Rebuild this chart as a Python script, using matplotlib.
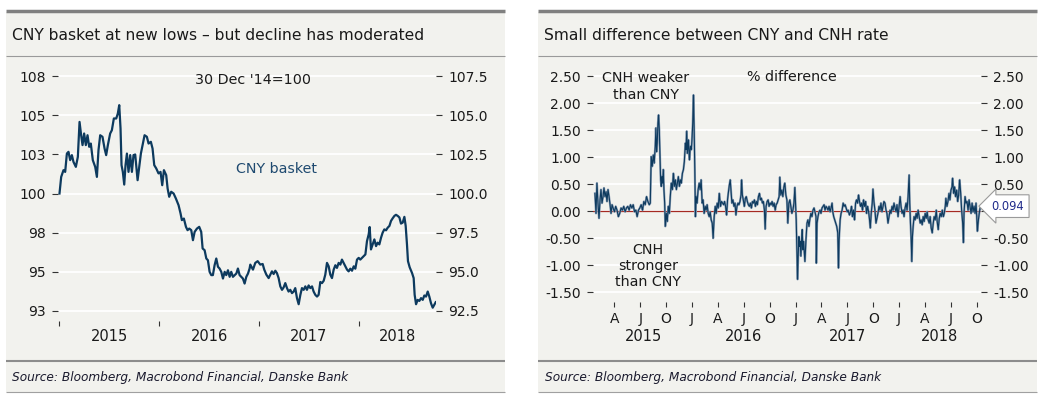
import matplotlib
matplotlib.use("Agg")
import matplotlib.pyplot as plt
from matplotlib.patches import Rectangle
from matplotlib.lines import Line2D

# CNY basket index (30 Dec 2014 = 100), decimal year vs index
basket = [
    (2015.000, 100.00), (2015.017, 101.06), (2015.040, 101.49), (2015.057, 101.38), (2015.074, 102.55),
    (2015.090, 102.66), (2015.107, 102.13), (2015.124, 102.45), (2015.140, 102.02), (2015.164, 101.70),
    (2015.184, 102.34), (2015.201, 104.57), (2015.217, 103.72), (2015.231, 103.09), (2015.247, 103.83),
    (2015.264, 103.09), (2015.281, 103.72), (2015.298, 102.98), (2015.314, 103.19), (2015.334, 102.13),
    (2015.358, 101.70), (2015.375, 101.06), (2015.391, 102.77), (2015.408, 103.72), (2015.431, 103.62),
    (2015.452, 102.87), (2015.468, 102.45), (2015.485, 103.09), (2015.508, 103.83), (2015.525, 104.04),
    (2015.545, 104.79), (2015.569, 104.79), (2015.585, 105.11), (2015.599, 105.64), (2015.612, 104.15),
    (2015.622, 101.81), (2015.635, 101.38), (2015.649, 100.57), (2015.662, 101.81), (2015.676, 102.55),
    (2015.692, 101.38), (2015.709, 102.45), (2015.726, 101.38), (2015.742, 102.45), (2015.759, 102.49),
    (2015.783, 100.85), (2015.799, 101.70), (2015.816, 102.55), (2015.833, 103.09), (2015.853, 103.72),
    (2015.876, 103.62), (2015.893, 103.19), (2015.916, 103.30), (2015.933, 102.87), (2015.950, 101.81),
    (2015.970, 101.60), (2015.993, 101.28), (2016.013, 101.38), (2016.030, 100.53), (2016.047, 101.49),
    (2016.070, 101.17), (2016.084, 100.32), (2016.100, 99.79), (2016.120, 100.11), (2016.144, 100.00),
    (2016.167, 99.68), (2016.194, 99.25), (2016.214, 98.72), (2016.227, 98.30), (2016.247, 98.40),
    (2016.268, 97.87), (2016.284, 97.66), (2016.301, 97.76), (2016.321, 97.66), (2016.338, 97.02),
    (2016.355, 97.55), (2016.378, 97.76), (2016.401, 97.87), (2016.421, 97.55), (2016.435, 96.49),
    (2016.455, 96.38), (2016.472, 95.85), (2016.488, 95.74), (2016.505, 95.00), (2016.522, 94.79),
    (2016.538, 94.79), (2016.555, 95.42), (2016.572, 95.85), (2016.589, 95.32), (2016.605, 95.21),
    (2016.622, 95.00), (2016.639, 94.57), (2016.656, 95.00), (2016.672, 94.79), (2016.689, 95.10),
    (2016.706, 94.68), (2016.722, 95.00), (2016.739, 94.68), (2016.756, 94.79), (2016.773, 94.89),
    (2016.789, 95.21), (2016.806, 94.79), (2016.823, 94.68), (2016.839, 94.57), (2016.856, 94.25),
    (2016.873, 94.68), (2016.890, 94.89), (2016.906, 95.21), (2016.913, 95.46), (2016.940, 95.14),
    (2016.963, 95.57), (2016.987, 95.68), (2017.013, 95.46), (2017.037, 95.50), (2017.053, 95.14),
    (2017.074, 94.82), (2017.097, 94.60), (2017.114, 94.82), (2017.130, 95.03), (2017.147, 94.86),
    (2017.164, 95.07), (2017.180, 94.92), (2017.197, 94.60), (2017.214, 94.07), (2017.231, 93.85),
    (2017.247, 94.00), (2017.264, 94.28), (2017.281, 93.96), (2017.297, 93.74), (2017.314, 93.85),
    (2017.331, 93.64), (2017.348, 93.74), (2017.364, 93.96), (2017.381, 93.32), (2017.398, 92.93),
    (2017.415, 93.53), (2017.431, 93.96), (2017.448, 93.85), (2017.465, 94.07), (2017.481, 93.85),
    (2017.498, 94.13), (2017.515, 93.96), (2017.532, 94.07), (2017.548, 93.74), (2017.565, 93.53),
    (2017.582, 93.42), (2017.598, 93.53), (2017.615, 94.35), (2017.632, 94.28), (2017.649, 94.43),
    (2017.665, 94.82), (2017.682, 95.57), (2017.699, 95.35), (2017.715, 94.82), (2017.732, 94.60),
    (2017.749, 95.14), (2017.766, 95.42), (2017.782, 95.25), (2017.799, 95.57), (2017.816, 95.46),
    (2017.832, 95.78), (2017.849, 95.57), (2017.866, 95.35), (2017.883, 95.14), (2017.899, 95.03),
    (2017.916, 95.20), (2017.933, 95.07), (2017.950, 95.35), (2017.966, 95.20), (2017.983, 95.78),
    (2018.000, 95.89), (2018.016, 95.78), (2018.033, 95.89), (2018.050, 96.00), (2018.067, 96.11),
    (2018.083, 96.96), (2018.100, 97.39), (2018.110, 97.86), (2018.123, 96.43), (2018.140, 96.75),
    (2018.157, 97.07), (2018.174, 96.64), (2018.190, 96.86), (2018.207, 96.75), (2018.224, 97.18),
    (2018.240, 97.50), (2018.257, 97.71), (2018.274, 97.65), (2018.291, 97.82), (2018.308, 97.93),
    (2018.324, 98.25), (2018.341, 98.42), (2018.358, 98.57), (2018.374, 98.64), (2018.391, 98.57),
    (2018.408, 98.47), (2018.424, 98.08), (2018.441, 98.14), (2018.458, 98.51), (2018.471, 97.93),
    (2018.484, 96.75), (2018.494, 95.68), (2018.511, 95.29), (2018.535, 94.92), (2018.551, 94.60),
    (2018.561, 93.53), (2018.575, 92.93), (2018.591, 93.21), (2018.608, 93.14), (2018.625, 93.32),
    (2018.642, 93.21), (2018.658, 93.49), (2018.675, 93.42), (2018.692, 93.74), (2018.708, 93.42),
    (2018.725, 92.99), (2018.742, 92.71), (2018.758, 92.89), (2018.772, 93.06),
]

# CNH vs CNY, % difference
spread = [
    (2015.063, 0.33), (2015.073, -0.04), (2015.082, 0.52), (2015.092, 0.15), (2015.102, -0.13),
    (2015.112, 0.21), (2015.121, 0.40), (2015.131, 0.15), (2015.141, 0.27), (2015.150, 0.43),
    (2015.160, 0.27), (2015.170, 0.36), (2015.179, 0.18), (2015.189, 0.40), (2015.199, 0.27),
    (2015.209, 0.12), (2015.218, -0.04), (2015.228, 0.12), (2015.238, 0.06), (2015.251, -0.01),
    (2015.263, 0.09), (2015.276, 0.02), (2015.289, -0.10), (2015.302, -0.04), (2015.315, 0.06),
    (2015.328, 0.02), (2015.341, 0.09), (2015.354, -0.01), (2015.367, 0.06), (2015.380, 0.09),
    (2015.393, 0.02), (2015.406, 0.12), (2015.419, 0.06), (2015.432, 0.12), (2015.445, -0.01),
    (2015.458, 0.02), (2015.470, -0.10), (2015.483, 0.02), (2015.496, 0.06), (2015.509, 0.12),
    (2015.522, 0.02), (2015.535, 0.18), (2015.548, 0.12), (2015.561, 0.27), (2015.574, 0.18),
    (2015.587, 0.12), (2015.597, 0.15), (2015.606, 1.01), (2015.616, 0.83), (2015.626, 1.04),
    (2015.635, 0.89), (2015.645, 1.20), (2015.651, 1.54), (2015.658, 1.10), (2015.664, 1.26),
    (2015.671, 1.63), (2015.677, 1.78), (2015.684, 1.51), (2015.690, 1.07), (2015.697, 0.58),
    (2015.703, 0.46), (2015.710, 0.64), (2015.716, 0.52), (2015.723, 0.77), (2015.729, 0.40),
    (2015.736, 0.15), (2015.742, -0.28), (2015.752, -0.04), (2015.761, -0.19), (2015.771, 0.09),
    (2015.781, -0.04), (2015.790, 0.27), (2015.800, 0.52), (2015.810, 0.40), (2015.820, 0.70),
    (2015.829, 0.46), (2015.839, 0.58), (2015.849, 0.40), (2015.858, 0.52), (2015.868, 0.64),
    (2015.878, 0.46), (2015.887, 0.58), (2015.897, 0.52), (2015.907, 0.70), (2015.917, 0.77),
    (2015.926, 0.92), (2015.936, 1.26), (2015.942, 1.14), (2015.949, 1.48), (2015.955, 1.07),
    (2015.965, 1.32), (2015.975, 0.95), (2015.984, 1.20), (2015.994, 1.14), (2016.001, 1.38),
    (2016.007, 1.63), (2016.014, 2.15), (2016.020, 1.57), (2016.027, 0.77), (2016.033, -0.10),
    (2016.040, 0.27), (2016.049, 0.15), (2016.059, 0.40), (2016.069, 0.52), (2016.078, 0.40),
    (2016.088, 0.58), (2016.098, 0.15), (2016.107, 0.21), (2016.117, -0.04), (2016.127, 0.09),
    (2016.136, 0.02), (2016.146, 0.12), (2016.156, -0.04), (2016.166, -0.10), (2016.175, -0.01),
    (2016.185, -0.16), (2016.195, -0.22), (2016.204, -0.50), (2016.214, -0.10), (2016.224, 0.09),
    (2016.233, -0.04), (2016.243, 0.15), (2016.253, 0.06), (2016.263, 0.33), (2016.275, 0.09),
    (2016.285, 0.18), (2016.295, 0.15), (2016.305, 0.12), (2016.314, 0.18), (2016.324, 0.09),
    (2016.334, -0.07), (2016.343, 0.21), (2016.350, 0.33), (2016.360, 0.48), (2016.369, 0.58),
    (2016.376, 0.39), (2016.385, 0.15), (2016.395, 0.21), (2016.405, 0.09), (2016.415, 0.15),
    (2016.424, -0.07), (2016.434, 0.09), (2016.444, 0.15), (2016.453, 0.12), (2016.463, 0.18),
    (2016.473, 0.30), (2016.479, 0.58), (2016.486, 0.30), (2016.495, 0.21), (2016.505, 0.09),
    (2016.515, 0.24), (2016.524, 0.27), (2016.534, 0.18), (2016.544, 0.12), (2016.554, 0.09),
    (2016.563, 0.15), (2016.573, 0.06), (2016.583, 0.18), (2016.592, 0.15), (2016.602, 0.21),
    (2016.612, 0.09), (2016.621, 0.18), (2016.631, 0.12), (2016.641, 0.27), (2016.651, 0.33),
    (2016.660, 0.21), (2016.670, 0.24), (2016.680, 0.15), (2016.689, 0.18), (2016.699, 0.02),
    (2016.706, -0.33), (2016.715, 0.09), (2016.725, 0.18), (2016.735, 0.21), (2016.744, 0.09),
    (2016.754, 0.15), (2016.764, 0.12), (2016.773, 0.18), (2016.783, 0.09), (2016.793, 0.15),
    (2016.803, 0.02), (2016.812, 0.12), (2016.822, 0.15), (2016.832, 0.21), (2016.841, 0.27),
    (2016.848, 0.63), (2016.857, 0.30), (2016.867, 0.39), (2016.877, 0.27), (2016.887, 0.45),
    (2016.896, 0.52), (2016.906, 0.30), (2016.916, 0.21), (2016.925, -0.22), (2016.935, 0.15),
    (2016.945, 0.21), (2016.954, 0.09), (2016.964, -0.04), (2016.974, 0.02), (2016.984, 0.15),
    (2016.993, 0.44), (2017.000, 0.09), (2017.006, -0.16), (2017.013, -0.71), (2017.019, -1.26),
    (2017.026, -0.77), (2017.032, -0.47), (2017.038, -0.65), (2017.045, -0.56), (2017.051, -0.83),
    (2017.058, -0.53), (2017.064, -0.34), (2017.071, -0.71), (2017.077, -0.56), (2017.084, -0.77),
    (2017.090, -0.93), (2017.100, -0.53), (2017.110, -0.22), (2017.119, -0.16), (2017.129, -0.28),
    (2017.139, -0.13), (2017.148, -0.04), (2017.158, -0.10), (2017.168, 0.02), (2017.178, 0.06),
    (2017.187, -0.01), (2017.197, -0.10), (2017.200, -0.96), (2017.207, -0.22), (2017.216, -0.10),
    (2017.226, -0.01), (2017.236, 0.02), (2017.245, -0.04), (2017.255, 0.06), (2017.265, 0.09),
    (2017.275, 0.12), (2017.284, 0.02), (2017.294, 0.09), (2017.304, 0.06), (2017.313, 0.02),
    (2017.323, 0.09), (2017.333, -0.01), (2017.342, 0.06), (2017.352, 0.15), (2017.359, -0.01),
    (2017.368, -0.10), (2017.378, -0.16), (2017.388, -0.22), (2017.397, -0.28), (2017.407, -0.40),
    (2017.414, -1.05), (2017.420, -0.53), (2017.430, -0.16), (2017.439, -0.04), (2017.449, 0.02),
    (2017.459, 0.15), (2017.468, 0.09), (2017.478, 0.12), (2017.488, 0.06), (2017.498, -0.01),
    (2017.507, 0.02), (2017.520, -0.07), (2017.530, -0.01), (2017.540, 0.09), (2017.549, -0.10),
    (2017.559, 0.02), (2017.569, -0.16), (2017.579, 0.15), (2017.588, 0.21), (2017.598, 0.15),
    (2017.608, 0.30), (2017.617, 0.18), (2017.627, 0.09), (2017.637, 0.15), (2017.646, 0.02),
    (2017.656, 0.21), (2017.666, 0.09), (2017.676, 0.18), (2017.685, -0.04), (2017.695, 0.09),
    (2017.705, -0.01), (2017.714, -0.16), (2017.721, -0.31), (2017.730, -0.04), (2017.740, 0.15),
    (2017.747, 0.41), (2017.756, 0.18), (2017.766, 0.02), (2017.776, -0.22), (2017.785, -0.13),
    (2017.795, -0.04), (2017.805, 0.09), (2017.815, 0.02), (2017.824, 0.15), (2017.834, -0.01),
    (2017.844, 0.09), (2017.853, 0.18), (2017.863, 0.15), (2017.873, 0.02), (2017.882, -0.04),
    (2017.892, -0.22), (2017.902, -0.10), (2017.912, 0.02), (2017.921, -0.04), (2017.931, 0.09),
    (2017.941, 0.02), (2017.950, 0.15), (2017.960, 0.06), (2017.970, -0.01), (2017.979, 0.12),
    (2017.989, -0.10), (2017.999, 0.09), (2018.009, 0.27), (2018.018, 0.09), (2018.028, -0.04),
    (2018.038, 0.02), (2018.047, -0.10), (2018.057, 0.06), (2018.067, 0.15), (2018.076, 0.02),
    (2018.086, 0.27), (2018.096, 0.67), (2018.102, 0.15), (2018.109, -0.22), (2018.115, -0.47),
    (2018.122, -0.93), (2018.128, -0.47), (2018.135, -0.28), (2018.144, -0.10), (2018.154, -0.16),
    (2018.164, -0.04), (2018.173, -0.13), (2018.183, 0.02), (2018.193, -0.10), (2018.203, -0.22),
    (2018.212, -0.16), (2018.222, -0.25), (2018.232, -0.10), (2018.241, -0.19), (2018.251, -0.04),
    (2018.261, -0.13), (2018.270, -0.01), (2018.280, -0.16), (2018.290, -0.22), (2018.299, -0.10),
    (2018.309, -0.31), (2018.319, -0.40), (2018.329, -0.22), (2018.338, -0.10), (2018.348, -0.16),
    (2018.358, 0.02), (2018.367, -0.19), (2018.377, -0.34), (2018.387, -0.13), (2018.396, -0.04),
    (2018.406, -0.10), (2018.416, 0.02), (2018.426, -0.10), (2018.435, -0.04), (2018.445, 0.09),
    (2018.451, 0.24), (2018.461, 0.09), (2018.471, 0.18), (2018.481, 0.33), (2018.490, 0.21),
    (2018.500, 0.39), (2018.510, 0.45), (2018.516, 0.61), (2018.526, 0.33), (2018.535, 0.45),
    (2018.545, 0.27), (2018.555, 0.39), (2018.565, 0.18), (2018.574, 0.30), (2018.584, 0.58),
    (2018.594, 0.33), (2018.603, 0.02), (2018.613, -0.22), (2018.620, -0.58), (2018.626, -0.04),
    (2018.636, 0.27), (2018.645, 0.15), (2018.655, 0.18), (2018.665, 0.02), (2018.675, 0.21),
    (2018.684, 0.09), (2018.694, -0.04), (2018.704, 0.15), (2018.713, -0.01), (2018.723, 0.09),
    (2018.733, -0.04), (2018.742, 0.15), (2018.749, -0.10), (2018.755, -0.37), (2018.765, -0.16),
    (2018.775, -0.01), (2018.785, 0.094),
]

basket_t, basket_v = zip(*basket)
spread_t, spread_v = zip(*spread)

years = [2015, 2016, 2017, 2018]
basket_ticks = [92.5, 95.0, 97.5, 100.0, 102.5, 105.0, 107.5]
basket_left_labels = ['93', '95', '98', '100', '103', '105', '108']
basket_right_labels = ['92.5', '95.0', '97.5', '100.0', '102.5', '105.0', '107.5']
spread_ticks = [-1.5, -1.0, -0.5, 0.0, 0.5, 1.0, 1.5, 2.0, 2.5]
quarter_ticks = [2015.25, 2015.5, 2015.75, 2016.0, 2016.25, 2016.5, 2016.75, 2017.0,
                 2017.25, 2017.5, 2017.75, 2018.0, 2018.25, 2018.5, 2018.75]
quarter_labels = ['A', 'J', 'O', 'J', 'A', 'J', 'O', 'J', 'A', 'J', 'O', 'J', 'A', 'J', 'O']

W, H = 1044, 397
BG = '#f2f2ee'
NAVY = '#0d3a5e'
TXT = '#1a1a1a'
TICKC = '#333333'

plt.rcParams['font.family'] = ['DejaVu Sans']

fig = plt.figure(figsize=(W / 100, H / 100), dpi=100)
fig.patch.set_facecolor('white')


def fx(px):
    return px / W


def fy(py):
    return 1 - py / H


def hline(x0, x1, y, color, lw):
    fig.add_artist(Line2D([fx(x0), fx(x1)], [fy(y), fy(y)], transform=fig.transFigure,
                          color=color, lw=lw, solid_capstyle='butt'))


# panel frames
for x0, x1 in [(6, 505), (538, 1037)]:
    fig.add_artist(Rectangle((fx(x0), fy(392)), fx(x1) - fx(x0), fy(12) - fy(392),
                             transform=fig.transFigure, fc=BG, ec='none', zorder=-5))
    hline(x0, x1, 11, '#808080', 2.5)
    hline(x0, x1, 56, '#9a9a9a', 0.8)
    hline(x0, x1, 361, '#8c8c8c', 1.5)
    hline(x0, x1, 392, '#a0a0a0', 0.8)

fig.text(fx(12), fy(35), 'CNY basket at new lows \u2013 but decline has moderated',
         fontsize=11.2, color=TXT, va='center', ha='left')
fig.text(fx(544), fy(35), 'Small difference between CNY and CNH rate',
         fontsize=11.2, color=TXT, va='center', ha='left')
for x in (12, 545):
    fig.text(fx(x), fy(377), 'Source: Bloomberg, Macrobond Financial, Danske Bank',
             fontsize=8.7, style='italic', color='#1a1a2e', va='center', ha='left')


def style_axes(ax):
    ax.set_facecolor(BG)
    for s in ax.spines.values():
        s.set_visible(False)
    ax.yaxis.grid(True, color='white', lw=1.3)
    ax.set_axisbelow(True)


def year_label_positions(t0, t1):
    pos = []
    for y in years:
        a = max(y, t0)
        b = min(y + 1, t1)
        pos.append((a + b) / 2)
    return pos


# ---- left panel: CNY basket ----
ax1 = fig.add_axes([fx(58), fy(321), fx(436) - fx(58), fy(66) - fy(321)])
style_axes(ax1)
ax1.plot(basket_t, basket_v, color=NAVY, lw=1.6, solid_joinstyle='round', zorder=3)
ax1.set_xlim(2014.985, 2018.775)
ax1.set_ylim(91.86, 108.14)
ax1.set_yticks(basket_ticks)
ax1.set_yticklabels(basket_left_labels)
ax1.set_xticks(years)
ax1.set_xticklabels([])
ax1.tick_params(axis='y', length=4.3, width=0.8, color=TICKC, pad=4.3, labelsize=10, labelcolor=TXT)
ax1.tick_params(axis='x', length=3.6, width=0.8, color=TICKC)

ax1r = ax1.twinx()
for s in ax1r.spines.values():
    s.set_visible(False)
ax1r.set_ylim(ax1.get_ylim())
ax1r.set_yticks(basket_ticks)
ax1r.set_yticklabels(basket_right_labels)
ax1r.tick_params(axis='y', length=4.3, width=0.8, color=TICKC, pad=4.3, labelsize=10, labelcolor=TXT)

for y, xpos in zip(years, year_label_positions(basket_t[0], basket_t[-1])):
    ax1.annotate(str(y), xy=(xpos, 0), xycoords=('data', 'axes fraction'),
                 xytext=(0, -11.3), textcoords='offset points', ha='center', va='center',
                 fontsize=10.5, color=TXT)

fig.text(fx(253), fy(80), "30 Dec '14=100", fontsize=10.3, color=TXT, ha='center', va='center')
fig.text(fx(277), fy(169), 'CNY basket', fontsize=10.3, color='#1f4a70', ha='center', va='center')

# ---- right panel: CNH vs CNY ----
ax2 = fig.add_axes([fx(593), fy(302), fx(981) - fx(593), fy(66) - fy(302)])
style_axes(ax2)
ax2.axhline(0, color='#a52a22', lw=0.9, zorder=2)
ax2.plot(spread_t, spread_v, color='#8da0b6', lw=1.6, zorder=3)
ax2.plot(spread_t, spread_v, color=NAVY, lw=0.8, zorder=4)
ax2.set_xlim(2015.044, 2018.79)
ax2.set_ylim(-1.679, 2.686)
ax2.set_yticks(spread_ticks)
ax2.set_yticklabels([f'{v:.2f}' for v in spread_ticks])
ax2.set_xticks(quarter_ticks)
ax2.set_xticklabels(quarter_labels)
ax2.tick_params(axis='y', left=True, right=True, labelleft=True, labelright=True,
                length=4.3, width=0.8, color=TICKC, pad=4.3, labelsize=10, labelcolor=TXT)
ax2.tick_params(axis='x', length=3.6, width=0.8, color=TICKC, pad=3.6, labelsize=10, labelcolor=TXT)

for y, xpos in zip(years, year_label_positions(spread_t[0], spread_t[-1])):
    ax2.annotate(str(y), xy=(xpos, 0), xycoords=('data', 'axes fraction'),
                 xytext=(0, -24.5), textcoords='offset points', ha='center', va='center',
                 fontsize=10.5, color=TXT)

# last-value tag, drawn over the right-hand 0.00 label as in the original
ax2.annotate(f'{spread_v[-1]:.3f}', xy=(spread_t[-1], spread_v[-1]), xytext=(8, 0),
             textcoords='offset points', ha='left', va='center', fontsize=8.3, color='#1f2a8a',
             bbox=dict(boxstyle='larrow,pad=0.42', fc='white', ec='#9a9a9a', lw=0.8),
             annotation_clip=False, zorder=10)

fig.text(fx(646), fy(78), 'CNH weaker', fontsize=10.3, color=TXT, ha='center', va='center')
fig.text(fx(646), fy(95), 'than CNY', fontsize=10.3, color=TXT, ha='center', va='center')
fig.text(fx(792), fy(77), '% difference', fontsize=10.3, color=TXT, ha='center', va='center')
fig.text(fx(648), fy(266), 'CNH\nstronger\nthan CNY', fontsize=10.3, color=TXT,
         ha='center', va='center', linespacing=1.2)

fig.savefig('out.png', dpi=100, facecolor='white')
